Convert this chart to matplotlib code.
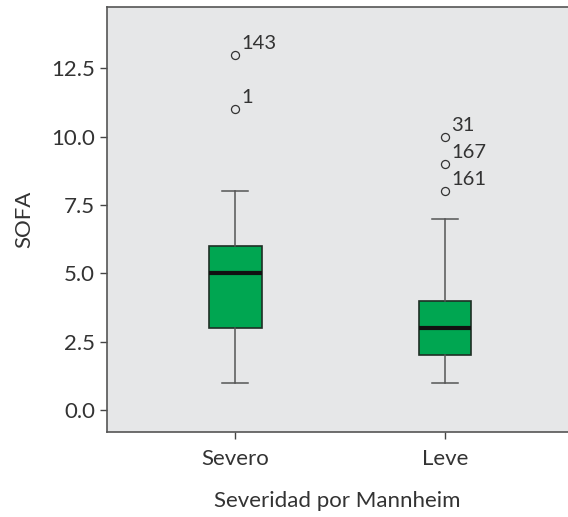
import matplotlib
matplotlib.use("Agg")
import matplotlib.pyplot as plt

plt.rcParams['font.family'] = ['Lato', 'DejaVu Sans']

categories = ["Severo", "Leve"]
whislo = [1, 1]
q1 = [3, 2]
med = [5, 3]
q3 = [6, 4]
whishi = [8, 7]
outliers = [[11, 13], [8, 9, 10]]
outlier_labels = [["1", "143"], ["161", "167", "31"]]
yticks = [0.0, 2.5, 5.0, 7.5, 10.0, 12.5]

fig = plt.figure(figsize=(5.68, 5.17), dpi=100)
ax = fig.add_axes([107/568, 85/517, 1 - 107/568, (432-7)/517])
ax.set_facecolor('#e6e7e8')

stats = []
for i in range(len(categories)):
    stats.append(dict(whislo=whislo[i], q1=q1[i], med=med[i], q3=q3[i],
                      whishi=whishi[i], fliers=outliers[i], label=categories[i]))

ax.bxp(stats, positions=[1, 2], widths=0.25, patch_artist=True,
       boxprops=dict(facecolor='#00a651', edgecolor='#1f2f25', linewidth=1.2),
       medianprops=dict(color='#111111', linewidth=3),
       whiskerprops=dict(color='#555555', linewidth=1.1),
       capprops=dict(color='#555555', linewidth=1.1),
       flierprops=dict(marker='o', markerfacecolor='none', markeredgecolor='#333333',
                       markersize=5.8, markeredgewidth=0.9))

for i in range(len(categories)):
    for v, lab in zip(outliers[i], outlier_labels[i]):
        ax.annotate(lab, (i + 1, v), xytext=(6, 3), textcoords='offset pixels',
                    ha='left', va='bottom', fontsize=14.5, color='#333333')

ax.set_xlim(0.388, 2.586)
ax.set_ylim(-0.8, 14.75)
ax.set_yticks(yticks)
ax.set_yticklabels([f"{t:.1f}" for t in yticks])
ax.tick_params(axis='both', direction='out', length=5, width=1, colors='#444444',
               labelsize=16, labelcolor='#333333')
ax.tick_params(axis='x', pad=7)
ax.spines['right'].set_visible(False)
for s in ['top', 'left', 'bottom']:
    ax.spines[s].set_color('#555555')
    ax.spines[s].set_linewidth(1.2)

ax.set_ylabel("SOFA", fontsize=16, color='#333333', labelpad=12)
ax.set_xlabel("Severidad por Mannheim", fontsize=16, color='#333333', labelpad=16)

fig.savefig("out.png", dpi=100)
